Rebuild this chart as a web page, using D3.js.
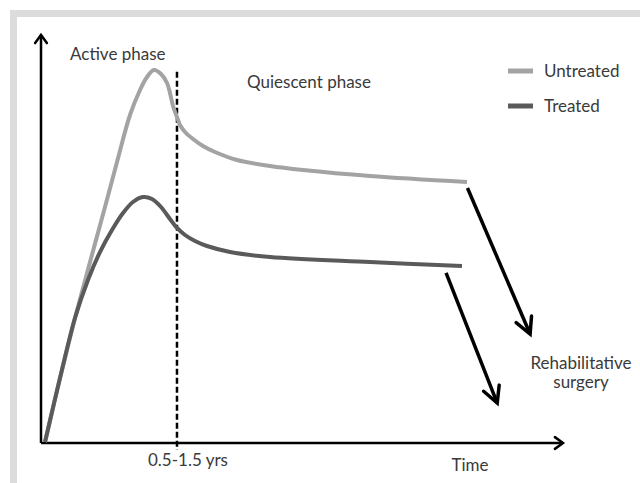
<!DOCTYPE html>
<html>
<head>
<meta charset="utf-8">
<script src="https://cdn.jsdelivr.net/npm/d3@7"></script>
<style>
  html, body { margin: 0; padding: 0; background: #fff; }
  svg { display: block; }
  text { font-family: Lato, "Open Sans", sans-serif; fill: #3a3a3a; }
</style>
</head>
<body>
<script>
// ---- Data (arbitrary units: time 0-100, severity 0-100) ----
const untreatedTime  = [0.77, 3.64, 6.51, 9.39, 12.26, 14.56, 17.05, 18.97, 20.31, 21.65, 22.99, 24.14, 24.71, 25.29, 26.05, 26.63, 27.59, 29.12, 31.03, 33.33, 37.55, 43.87, 50.19, 63.03, 81.61];
const untreatedValue = [0.25, 15.93, 30.64, 44.36, 57.84, 68.87, 80.39, 86.52, 89.71, 91.42, 90.44, 88.24, 85.78, 82.60, 79.90, 77.94, 76.23, 74.51, 72.79, 71.32, 69.36, 67.89, 66.91, 65.44, 63.97];
const treatedTime    = [0.77, 3.64, 6.51, 9.00, 11.30, 13.60, 15.71, 17.62, 19.54, 21.26, 22.99, 24.71, 26.05, 27.59, 29.50, 31.80, 36.21, 43.87, 63.03, 80.65];
const treatedValue   = [0.25, 15.93, 30.64, 39.95, 46.81, 52.21, 56.37, 59.07, 60.29, 59.80, 57.84, 54.90, 52.70, 50.98, 49.51, 48.28, 46.81, 45.59, 44.36, 43.38];
const seriesNames    = ["Untreated", "Treated"];
const seriesColors   = ["#a3a3a3", "#5a5a5a"];
const phaseBoundary  = 26.05;           // 0.5-1.5 yrs
const boundaryLabel  = "0.5-1.5 yrs";
const phaseLabels    = ["Active phase", "Quiescent phase"];
const xAxisLabel     = "Time";
// rehabilitative surgery arrows: [startTime, startValue, endTime, endValue]
const surgeryArrowUntreated = [81.7, 62.5, 93.7, 26.7];
const surgeryArrowTreated   = [77.6, 41.7, 87.4, 9.8];
const surgeryLabel   = ["Rehabilitative", "surgery"];

// ---- Layout ----
const W = 640, H = 483;
const svg = d3.select("body").append("svg").attr("width", W).attr("height", H);

// slide frame
svg.append("rect").attr("x", 10).attr("y", 10).attr("width", W - 10).attr("height", H - 10).attr("fill", "#dcdcdc");
svg.append("rect").attr("x", 17).attr("y", 17).attr("width", W - 17).attr("height", H - 17).attr("fill", "#ffffff");

const x = d3.scaleLinear().domain([0, 100]).range([41, 563]);
const y = d3.scaleLinear().domain([0, 100]).range([443, 35]);

// chevron arrow helper
function chevron(g, x1, y1, x2, y2, len, ang, width) {
  const a = Math.atan2(y2 - y1, x2 - x1);
  const p1 = [x2 - len * Math.cos(a - ang), y2 - len * Math.sin(a - ang)];
  const p2 = [x2 - len * Math.cos(a + ang), y2 - len * Math.sin(a + ang)];
  g.append("path")
    .attr("d", `M${p1[0]},${p1[1]}L${x2},${y2}L${p2[0]},${p2[1]}`)
    .attr("fill", "none").attr("stroke", "#000").attr("stroke-width", width)
    .attr("stroke-linejoin", "miter").attr("stroke-linecap", "round");
}

// axes
const axes = svg.append("g");
axes.append("line").attr("x1", x(0)).attr("y1", y(0)).attr("x2", x(0)).attr("y2", y(100))
  .attr("stroke", "#000").attr("stroke-width", 2.5);
axes.append("line").attr("x1", x(0)).attr("y1", y(0)).attr("x2", x(100)).attr("y2", y(0))
  .attr("stroke", "#000").attr("stroke-width", 2.5);
chevron(axes, x(0), y(0), x(0), y(100), 10, Math.PI / 5, 2.5);
chevron(axes, x(0), y(0), x(100), y(0), 10, Math.PI / 5, 2.5);

// phase boundary
svg.append("line")
  .attr("x1", x(phaseBoundary)).attr("x2", x(phaseBoundary))
  .attr("y1", y(91)).attr("y2", y(0) + 7)
  .attr("stroke", "#000").attr("stroke-width", 2.5).attr("stroke-dasharray", "6,3");

// curves
const line = d3.line().x(d => x(d[0])).y(d => y(d[1])).curve(d3.curveCatmullRom.alpha(0.5));
const untreated = untreatedTime.map((t, i) => [t, untreatedValue[i]]);
const treated = treatedTime.map((t, i) => [t, treatedValue[i]]);
svg.append("path").datum(untreated).attr("d", line)
  .attr("fill", "none").attr("stroke", seriesColors[0]).attr("stroke-width", 4);
svg.append("path").datum(treated).attr("d", line)
  .attr("fill", "none").attr("stroke", seriesColors[1]).attr("stroke-width", 4);

// surgery arrows
[surgeryArrowUntreated, surgeryArrowTreated].forEach(a => {
  const g = svg.append("g");
  g.append("line").attr("x1", x(a[0])).attr("y1", y(a[1])).attr("x2", x(a[2])).attr("y2", y(a[3]))
    .attr("stroke", "#000").attr("stroke-width", 3.5);
  chevron(g, x(a[0]), y(a[1]), x(a[2]), y(a[3]), 18, Math.PI / 6.5, 3.5);
});

// labels
const fs = 17;
svg.append("text").attr("x", 70).attr("y", 60).attr("font-size", fs).text(phaseLabels[0]);
svg.append("text").attr("x", 247).attr("y", 88).attr("font-size", fs).text(phaseLabels[1]);
svg.append("text").attr("x", x(phaseBoundary) + 11).attr("y", 466).attr("font-size", fs)
  .attr("text-anchor", "middle").text(boundaryLabel);
svg.append("text").attr("x", 470).attr("y", 471).attr("font-size", fs)
  .attr("text-anchor", "middle").text(xAxisLabel);
svg.append("text").attr("x", 581).attr("y", 369).attr("font-size", fs)
  .attr("text-anchor", "middle").text(surgeryLabel[0]);
svg.append("text").attr("x", 581).attr("y", 388).attr("font-size", fs)
  .attr("text-anchor", "middle").text(surgeryLabel[1]);

// legend
const legend = svg.append("g");
seriesNames.forEach((name, i) => {
  const ly = 71 + i * 35;
  legend.append("line").attr("x1", 508).attr("x2", 533).attr("y1", ly).attr("y2", ly)
    .attr("stroke", seriesColors[i]).attr("stroke-width", 5);
  legend.append("text").attr("x", 544).attr("y", ly + 6).attr("font-size", fs).text(name);
});
</script>
</body>
</html>
